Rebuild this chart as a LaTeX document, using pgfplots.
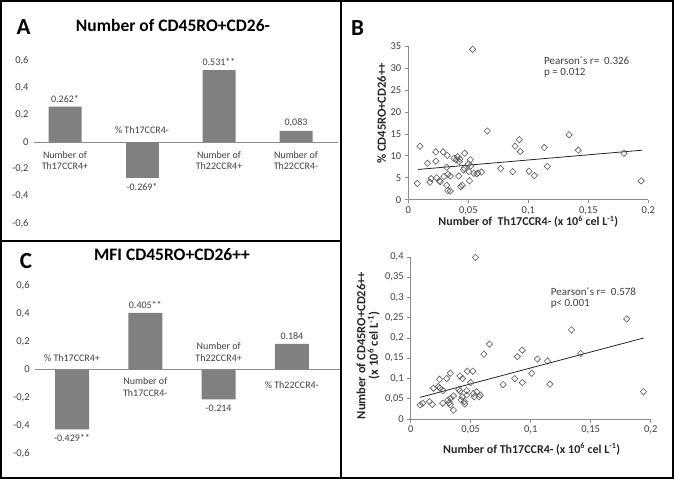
\documentclass[border=0pt]{standalone}
\usepackage{pgfplots}
\pgfplotsset{compat=1.18}
\usepackage{pgfplotstable}
\usepackage{fontspec}
\setmainfont{Carlito}

\definecolor{bargray}{HTML}{808080}
\definecolor{txt}{HTML}{404040}
\definecolor{axgray}{HTML}{8C8C8C}
\definecolor{mk}{HTML}{5A5A5A}

% bar values, split by sign so the value labels go to the outer end
% A = Number of CD45RO+CD26-
\pgfplotstableread{
x y lab
0 0.262 0.262*
2 0.531 0.531**
3 0.083 0,083
}\posA
\pgfplotstableread{
x y lab
1 -0.269 -0.269*
}\negA
% C = MFI CD45RO+CD26++
\pgfplotstableread{
x y lab
1 0.405 0.405**
3 0.184 0.184
}\posC
\pgfplotstableread{
x y lab
0 -0.429 -0.429**
2 -0.214 -0.214
}\negC

% B: % CD45RO+CD26++ vs number of Th17CCR4-
\pgfplotstableread{
x y
0.0075 3.7
0.0097 12.2
0.016 8.3
0.018 4.0
0.019 4.8
0.0228 10.9
0.023 8.8
0.0236 5.0
0.026 4.3
0.0267 4.1
0.029 10.9
0.0297 5.3
0.032 7.4
0.032 3.3
0.0325 10.1
0.033 5.8
0.033 2.1
0.035 2.0
0.035 5.4
0.038 9.4
0.040 9.1
0.041 9.8
0.042 5.4
0.0425 8.7
0.043 9.3
0.0436 3.0
0.045 3.3
0.046 6.8
0.0467 7.2
0.047 10.6
0.050 8.1
0.0505 6.4
0.0517 9.1
0.051 4.3
0.052 7.7
0.0536 34.3
0.0547 6.0
0.057 5.9
0.058 6.1
0.061 6.3
0.0658 15.7
0.077 7.1
0.087 6.4
0.089 12.2
0.0925 13.7
0.0933 11.0
0.1006 6.5
0.105 5.5
0.1133 11.9
0.1158 7.6
0.134 14.8
0.1417 11.3
0.1797 10.6
0.194 4.3
}\scatB

% D: number of CD45RO+CD26++ vs number of Th17CCR4-
\pgfplotstableread{
x y
0.0078 0.035
0.010 0.039
0.0156 0.043
0.018 0.036
0.019 0.076
0.023 0.080
0.024 0.098
0.0244 0.076
0.0267 0.039
0.027 0.070
0.030 0.100
0.031 0.047
0.032 0.040
0.033 0.113
0.033 0.035
0.0333 0.051
0.0356 0.057
0.0356 0.022
0.040 0.073
0.041 0.069
0.041 0.106
0.042 0.047
0.043 0.055
0.0433 0.100
0.0447 0.043
0.045 0.037
0.0467 0.070
0.0467 0.059
0.0472 0.118
0.050 0.090
0.0517 0.118
0.0522 0.063
0.053 0.055
0.054 0.399
0.055 0.067
0.057 0.055
0.058 0.059
0.061 0.160
0.0656 0.185
0.077 0.085
0.0867 0.0996
0.0889 0.154
0.093 0.170
0.093 0.090
0.1008 0.113
0.1056 0.148
0.114 0.143
0.116 0.086
0.134 0.220
0.1417 0.162
0.180 0.247
0.194 0.0675
}\scatD

\pgfplotsset{
  barax/.style={scale only axis, anchor=south west, ybar, enlargelimits=false, clip=false,
    ymin=-0.6, ymax=0.6, ytick={-0.6,-0.4,-0.2,0,0.2,0.4,0.6},
    xtick=\empty, axis x line=middle, axis y line=left,
    x axis line style={-, draw=axgray, line width=0.8pt},
    y axis line style={draw=none}, ytick style={draw=none},
    yticklabel style={font=\fontsize{10.5}{12}\selectfont, text=txt},
    /pgf/number format/use comma, /pgf/number format/fixed,
    /pgf/number format/precision=2, /pgf/number format/assume math mode=true,
    point meta=explicit symbolic},
  posbar/.style={fill=bargray, draw=none, bar shift=0pt, nodes near coords,
    every node near coord/.append style={font=\fontsize{10}{12}\selectfont, text=txt,
      anchor=south, inner sep=4pt}},
  negbar/.style={fill=bargray, draw=none, bar shift=0pt, nodes near coords,
    every node near coord/.append style={font=\fontsize{10}{12}\selectfont, text=txt,
      anchor=north, inner sep=5pt}},
  scat/.style={scale only axis, anchor=south west, enlargelimits=false, clip=false,
    axis lines=left, axis line style={-, draw=axgray, line width=0.8pt},
    tick style={draw=axgray, line width=0.8pt}, tick align=outside, major tick length=3.5pt,
    xmin=0, xmax=0.2, xtick={0,0.05,0.1,0.15,0.2},
    ticklabel style={font=\fontsize{10.5}{12}\selectfont, text=txt},
    /pgf/number format/use comma, /pgf/number format/fixed,
    /pgf/number format/precision=2, /pgf/number format/assume math mode=true},
  pts/.style={only marks, mark=diamond, mark size=3.2pt,
    mark options={draw=mk, fill=white, xscale=1.3, line width=0.6pt}},
  trend/.style={draw=black!85, line width=0.8pt, no marks},
}
\tikzset{catlab/.style={font=\fontsize{10}{11.5}\selectfont, text=txt, align=center, inner sep=0pt}}

\begin{document}
\begin{tikzpicture}
\path[use as bounding box] (0,0) rectangle (674pt,-479pt);

% ---- A ----
\begin{axis}[barax, at={(34.2pt,-223.3pt)}, width=304.2pt, height=162.6pt,
  xmin=-0.4, xmax=3.55, bar width=33pt]
\addplot[posbar] table[x=x, y=y, meta=lab] {\posA};
\addplot[negbar] table[x=x, y=y, meta=lab] {\negA};
\node[catlab, anchor=north, yshift=-9pt] at (axis cs:0,0) {Number of\\Th17CCR4+};
\node[catlab, anchor=south, yshift=8pt] at (axis cs:1,0) {\% Th17CCR4-};
\node[catlab, anchor=north, yshift=-9pt] at (axis cs:2,0) {Number of\\Th22CCR4+};
\node[catlab, anchor=north, yshift=-9pt] at (axis cs:3,0) {Number of\\Th22CCR4-};
\end{axis}

% ---- C ----
\begin{axis}[barax, at={(35.35pt,-453.3pt)}, width=304.2pt, height=167.6pt,
  xmin=-0.5, xmax=3.65, bar width=34pt]
\addplot[posbar] table[x=x, y=y, meta=lab] {\posC};
\addplot[negbar] table[x=x, y=y, meta=lab] {\negC};
\node[catlab, anchor=south, yshift=8pt] at (axis cs:0,0) {\% Th17CCR4+};
\node[catlab, anchor=north, yshift=-8pt] at (axis cs:1,0) {Number of\\Th17CCR4-};
\node[catlab, anchor=south, yshift=8pt] at (axis cs:2,0) {Number of\\Th22CCR4+};
\node[catlab, anchor=north, yshift=-12pt] at (axis cs:3,0) {\% Th22CCR4-};
\end{axis}

% ---- B ----
\begin{axis}[scat, at={(408.3pt,-199.7pt)}, width=240pt, height=153.4pt,
  ymin=0, ymax=35, ytick={0,5,10,15,20,25,30,35}]
\addplot[pts] table {\scatB};
\addplot[trend] coordinates {(0.008,6.9) (0.195,11.3)};
\end{axis}

% ---- D ----
\begin{axis}[scat, at={(410.7pt,-419pt)}, width=240pt, height=162pt,
  ymin=0, ymax=0.4, ytick={0,0.05,0.1,0.15,0.2,0.25,0.3,0.35,0.4}]
\addplot[pts] table {\scatD};
\addplot[trend] coordinates {(0.0078,0.0535) (0.194,0.200)};
\end{axis}

% titles and letters
\node[font=\bfseries\fontsize{17.5}{20}\selectfont] at (173pt,-25pt) {Number of CD45RO+CD26-};
\node[font=\bfseries\fontsize{17.5}{20}\selectfont] at (172pt,-255pt) {MFI CD45RO+CD26++};
\node[font=\bfseries\fontsize{23}{26}\selectfont] at (23.5pt,-27pt) {A};
\node[font=\bfseries\fontsize{23}{26}\selectfont] at (26pt,-260.7pt) {C};
\node[font=\bfseries\fontsize{23}{26}\selectfont] at (357.5pt,-27.7pt) {B};

% scatter labels
\node[font=\bfseries\fontsize{12.5}{14}\selectfont, text=black!85, rotate=90] at (381.7pt,-113.5pt) {\% CD45RO+CD26++};
\node[font=\bfseries\fontsize{12}{14}\selectfont, text=black!85] at (528.3pt,-221.7pt) {Number of\ \ Th17CCR4- (x 10\textsuperscript{6} cel L\textsuperscript{-1})};
\node[font=\bfseries\fontsize{12.5}{12.5}\selectfont, text=black!85, rotate=90, align=center] at (368.3pt,-345.5pt) {Number of CD45RO+CD26++\\(x 10\textsuperscript{6} cel L\textsuperscript{-1})};
\node[font=\bfseries\fontsize{12}{14}\selectfont, text=black!85] at (531.7pt,-449.3pt) {Number of Th17CCR4- (x 10\textsuperscript{6} cel L\textsuperscript{-1})};

\node[font=\fontsize{11}{13}\selectfont, text=txt, anchor=west, inner sep=0pt] at (544pt,-61pt) {Pearson´s r=\ \ 0.326};
\node[font=\fontsize{11}{13}\selectfont, text=txt, anchor=west, inner sep=0pt] at (544pt,-72.7pt) {p = 0.012};
\node[font=\fontsize{11}{13}\selectfont, text=txt, anchor=west, inner sep=0pt] at (550.7pt,-291.7pt) {Pearson´s r=\ \ 0.578};
\node[font=\fontsize{11}{13}\selectfont, text=txt, anchor=west, inner sep=0pt] at (550.7pt,-304pt) {p< 0.001};

% panel frames
\draw[line width=2pt] (1pt,-1pt) rectangle (673pt,-478pt);
\draw[line width=1.5pt] (341pt,-1pt) -- (341pt,-478pt);
\draw[line width=1.5pt] (1pt,-241pt) -- (341pt,-241pt);
\end{tikzpicture}
\end{document}
